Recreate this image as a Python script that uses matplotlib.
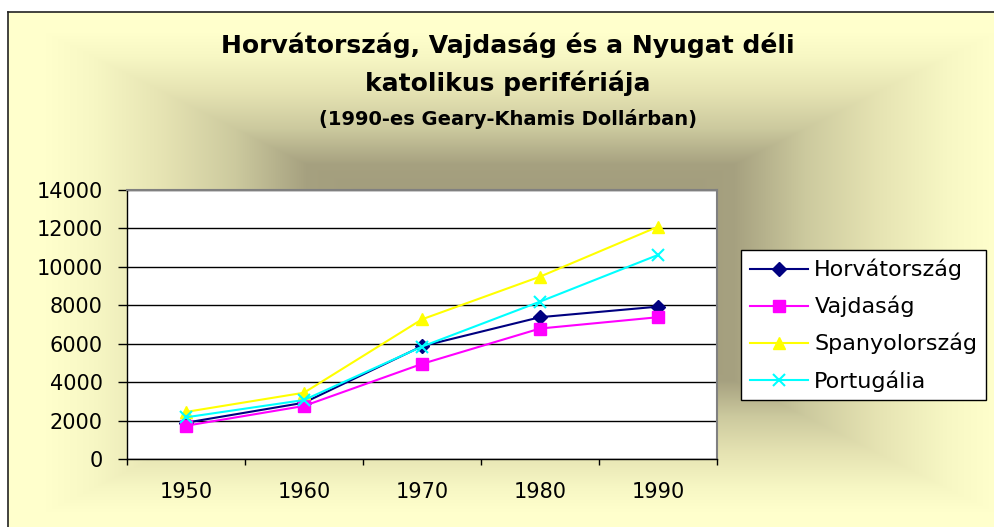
import numpy as np
import matplotlib
matplotlib.use("Agg")
import matplotlib.pyplot as plt

plt.rcParams['font.family'] = ['DejaVu Sans']

# ---- data ----
years = ["1950", "1960", "1970", "1980", "1990"]
horvatorszag = [1890, 2930, 5870, 7380, 7930]
vajdasag = [1730, 2760, 4950, 6790, 7380]
spanyolorszag = [2450, 3450, 7270, 9490, 12090]
portugalia = [2170, 3070, 5850, 8190, 10620]
series_names = ["Horvátország", "Vajdaság", "Spanyolország", "Portugália"]
y_ticks = [0, 2000, 4000, 6000, 8000, 10000, 12000, 14000]
title_lines = ["Horvátország, Vajdaság és a Nyugat déli",
               "katolikus perifériája",
               "(1990-es Geary-Khamis Dollárban)"]

W, H = 994, 527
fig = plt.figure(figsize=(W / 100, H / 100), dpi=100)

# ---- background gradient (rectangular, from center) ----
yy, xx = np.mgrid[0:H, 0:W]
cx, cy = 520.0, 272.0
t = np.maximum(np.abs(xx - cx) / 475.0, np.abs(yy - cy) / 240.0)
tp = [0.0, 0.45, 0.6, 0.75, 0.9, 1.0]
rr = np.interp(t, tp, [0.60, 0.65, 0.80, 0.90, 0.97, 1.0])
gg = np.interp(t, tp, [0.58, 0.63, 0.79, 0.89, 0.97, 1.0])
bb = np.interp(t, tp, [0.46, 0.50, 0.62, 0.70, 0.77, 0.80])
img = np.dstack([rr, gg, bb])
img[:12, :, :] = 1.0
img[:, :8, :] = 1.0
bg = fig.add_axes([0, 0, 1, 1], zorder=0)
bg.imshow(img, extent=[0, W, H, 0], aspect='auto', interpolation='bilinear')
bg.set_xlim(0, W)
bg.set_ylim(H, 0)
bg.axis('off')

# chart border
bg.plot([8, W], [12, 12], color='#222222', lw=1.2)
bg.plot([8, 8], [12, H], color='#222222', lw=1.2)

# ---- plot area ----
left, right, top, bottom = 127, 717, 190, 459
ax = fig.add_axes([left / W, 1 - bottom / H, (right - left) / W, (bottom - top) / H], zorder=2)
ax.set_facecolor('white')

x = np.arange(len(years))
ax.plot(x, horvatorszag, color='#000080', lw=1.5, marker='D', ms=7, label=series_names[0], zorder=3)
ax.plot(x, vajdasag, color='#FF00FF', lw=1.5, marker='s', ms=8, label=series_names[1], zorder=3)
ax.plot(x, spanyolorszag, color='#FFFF00', lw=1.5, marker='^', ms=9, label=series_names[2], zorder=3)
ax.plot(x, portugalia, color='#00FFFF', lw=1.5, marker='x', ms=9, mew=1.5, label=series_names[3], zorder=3)

ax.set_xlim(-0.5, len(years) - 0.5)
ax.set_ylim(0, 14000)
ax.set_yticks(y_ticks)
ax.set_yticklabels([str(v) for v in y_ticks], fontsize=15)
ax.yaxis.grid(True, color='black', lw=1)
ax.set_axisbelow(True)

ax.set_xticks(np.arange(-0.5, len(years), 1.0))
ax.set_xticklabels([])
ax.set_xticks(x, minor=True)
ax.set_xticklabels(years, minor=True, fontsize=15)
ax.tick_params(axis='x', which='major', direction='out', length=4.5, width=1, color='black')
ax.tick_params(axis='x', which='minor', length=0, pad=16.5)
ax.tick_params(axis='y', direction='out', length=6.5, width=1, color='black', pad=11)

for s in ['left', 'bottom']:
    ax.spines[s].set_color('black')
    ax.spines[s].set_linewidth(1)
for s in ['top', 'right']:
    ax.spines[s].set_color('#808080')
    ax.spines[s].set_linewidth(1.5)

# ---- legend ----
handles, labels = ax.get_legend_handles_labels()
leg = fig.legend(handles, labels, loc='upper left', bbox_to_anchor=(741 / W, 1 - 250 / H),
                 bbox_transform=fig.transFigure, fontsize=16, frameon=True,
                 fancybox=False, edgecolor='black', framealpha=1,
                 handlelength=2.6, handletextpad=0.3, borderpad=0.4,
                 labelspacing=0.7, borderaxespad=0)
leg.get_frame().set_linewidth(1)
leg.set_zorder(5)

# ---- titles ----
cxf = 508 / W
fig.text(cxf, 1 - 53 / H, title_lines[0], ha='center', va='baseline', fontsize=18, fontweight='bold', zorder=5)
fig.text(cxf, 1 - 91 / H, title_lines[1], ha='center', va='baseline', fontsize=18, fontweight='bold', zorder=5)
fig.text(cxf, 1 - 125 / H, title_lines[2], ha='center', va='baseline', fontsize=14, fontweight='bold', zorder=5)

fig.savefig('out.png', dpi=100)
